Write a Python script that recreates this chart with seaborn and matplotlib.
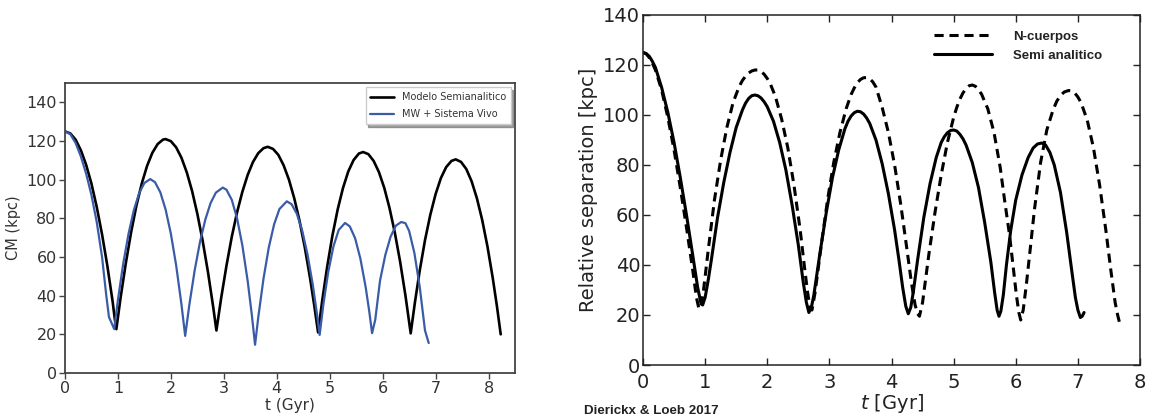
import matplotlib
matplotlib.use("Agg")
import matplotlib.pyplot as plt
import seaborn as sns

# ---- Left panel: centre-of-mass distance, semi-analytic vs live system ----
t_semi = [0.0, 0.1, 0.2, 0.3, 0.4, 0.5, 0.6, 0.7, 0.8, 0.9, 0.94, 0.97,
          1.05, 1.15, 1.25, 1.35, 1.45, 1.55, 1.65, 1.75, 1.85, 1.9,
          2.0, 2.1, 2.2, 2.3, 2.4, 2.5, 2.6, 2.7, 2.8, 2.86,
          2.95, 3.05, 3.15, 3.25, 3.35, 3.45, 3.55, 3.65, 3.75, 3.83,
          3.93, 4.03, 4.13, 4.23, 4.33, 4.43, 4.53, 4.63, 4.71, 4.78,
          4.86, 4.95, 5.05, 5.15, 5.25, 5.35, 5.45, 5.55, 5.63,
          5.73, 5.83, 5.93, 6.03, 6.13, 6.23, 6.33, 6.43, 6.53,
          6.61, 6.7, 6.8, 6.9, 7.0, 7.1, 7.2, 7.3, 7.38,
          7.48, 7.58, 7.68, 7.78, 7.88, 7.98, 8.08, 8.16, 8.23]
cm_semi = [125.0, 123.9, 120.7, 115.2, 107.6, 97.9, 85.8, 71.7, 55.4, 36.9, 28.0, 22.7,
           39.0, 57.0, 73.0, 86.7, 98.0, 107.1, 113.9, 118.4, 120.7, 121.0,
           119.9, 116.7, 111.3, 103.8, 94.2, 82.3, 68.4, 52.3, 34.0, 22.0,
           38.8, 55.5, 70.4, 83.1, 93.7, 102.4, 109.1, 113.7, 116.3, 117.0,
           115.9, 112.8, 107.4, 100.0, 90.4, 78.7, 64.9, 48.9, 34.6, 21.0,
           37.7, 54.6, 70.9, 84.5, 95.6, 104.2, 110.1, 113.5, 114.3,
           113.2, 109.7, 103.9, 95.8, 85.3, 72.6, 57.6, 40.2, 20.5,
           36.6, 52.9, 68.7, 81.8, 92.5, 100.8, 106.5, 109.7, 110.5,
           109.2, 105.5, 99.2, 90.4, 79.2, 65.4, 49.1, 34.3, 20.0]

t_live = [0.0, 0.1, 0.2, 0.3, 0.4, 0.5, 0.6, 0.7, 0.78, 0.83, 0.93,
          1.0, 1.1, 1.2, 1.3, 1.4, 1.5, 1.61,
          1.7, 1.8, 1.9, 2.0, 2.1, 2.2, 2.27,
          2.35, 2.45, 2.55, 2.65, 2.75, 2.85, 2.98,
          3.05, 3.15, 3.25, 3.35, 3.45, 3.53, 3.59,
          3.65, 3.75, 3.85, 3.95, 4.05, 4.19,
          4.28, 4.38, 4.48, 4.58, 4.68, 4.76, 4.81,
          4.88, 4.97, 5.07, 5.17, 5.29,
          5.38, 5.48, 5.58, 5.68, 5.75, 5.8,
          5.86, 5.95, 6.05, 6.15, 6.25, 6.35,
          6.43, 6.5, 6.6, 6.7, 6.8, 6.87]
cm_live = [125.0, 123.5, 119.0, 112.0, 103.0, 92.0, 78.0, 60.0, 40.0, 29.0, 22.7,
           37.8, 56.6, 72.0, 84.2, 93.0, 98.3, 100.3,
           98.7, 93.5, 84.6, 72.0, 55.6, 35.4, 19.2,
           35.5, 53.2, 67.8, 79.3, 87.9, 93.3, 95.9,
           94.8, 89.6, 80.0, 66.0, 47.7, 29.8, 14.6,
           28.7, 48.9, 65.0, 76.9, 84.8, 88.8,
           87.3, 82.3, 73.7, 61.4, 45.7, 30.4, 19.7,
           35.4, 51.9, 65.4, 74.0, 77.6,
           75.8, 69.7, 59.1, 44.3, 31.3, 20.6,
           27.5, 47.7, 61.0, 70.5, 76.2, 78.1,
           77.5, 73.5, 62.0, 44.6, 22.0, 15.5]

# ---- Right panel: relative separation, N-body vs semi-analytic ----
t_sa = [0.0, 0.05, 0.1, 0.15, 0.2, 0.3, 0.4, 0.5, 0.6, 0.7, 0.8, 0.88, 0.93, 0.96,
        1.0, 1.05, 1.1, 1.2, 1.3, 1.4, 1.5, 1.6, 1.65, 1.7, 1.75, 1.8,
        1.85, 1.9, 1.95, 2.0, 2.1, 2.2, 2.3, 2.4, 2.5, 2.58, 2.63, 2.67,
        2.71, 2.75, 2.85, 2.95, 3.05, 3.15, 3.25, 3.3, 3.35, 3.4, 3.45,
        3.5, 3.55, 3.6, 3.65, 3.75, 3.85, 3.95, 4.05, 4.12, 4.18, 4.23, 4.27,
        4.31, 4.35, 4.42, 4.52, 4.62, 4.72, 4.8, 4.85, 4.9, 4.95, 5.0,
        5.05, 5.1, 5.15, 5.2, 5.3, 5.4, 5.5, 5.6, 5.66, 5.7, 5.73,
        5.76, 5.8, 5.85, 5.92, 6.0, 6.1, 6.2, 6.28, 6.35, 6.42,
        6.48, 6.55, 6.62, 6.72, 6.82, 6.9, 6.96, 7.0, 7.04, 7.07, 7.1]
r_sa = [125.0, 124.6, 123.5, 121.5, 119.0, 111.0, 101.0, 89.0, 75.0, 60.0, 44.0, 31.0, 25.0, 24.0,
        27.0, 34.0, 42.0, 59.0, 73.0, 85.0, 95.0, 102.0, 104.7, 106.6, 107.7, 108.0,
        107.7, 106.8, 105.3, 103.3, 97.5, 89.0, 78.0, 64.0, 48.0, 33.0, 25.0, 21.0,
        23.0, 28.0, 45.0, 61.0, 75.0, 86.0, 94.5, 97.5, 99.6, 100.9, 101.5,
        101.3, 100.4, 98.8, 96.6, 90.0, 80.5, 68.5, 54.0, 42.0, 31.0, 23.5, 20.5,
        23.0, 29.0, 42.0, 59.0, 72.5, 83.0, 89.0, 91.3, 92.9, 93.8, 94.0,
        93.6, 92.3, 90.5, 88.0, 81.0, 71.0, 57.0, 41.0, 29.0, 22.0, 19.5,
        21.5, 28.0, 40.0, 54.0, 66.0, 76.0, 83.0, 86.8, 88.4, 88.8,
        88.0, 85.0, 80.0, 69.0, 53.0, 38.0, 27.0, 22.0, 19.0, 19.5, 21.0]

t_nb = [0.0, 0.05, 0.1, 0.15, 0.2, 0.3, 0.4, 0.5, 0.6, 0.7, 0.8, 0.86, 0.9, 0.93,
        0.97, 1.05, 1.15, 1.25, 1.35, 1.45, 1.55, 1.6, 1.65, 1.7, 1.75, 1.8,
        1.85, 1.9, 1.95, 2.0, 2.05, 2.13, 2.23, 2.33, 2.43, 2.53, 2.6, 2.65, 2.69,
        2.72, 2.77, 2.87, 2.97, 3.07, 3.17, 3.27, 3.35, 3.4, 3.45, 3.5, 3.55,
        3.6, 3.65, 3.7, 3.75, 3.85, 3.95, 4.05, 4.15, 4.25, 4.32, 4.38, 4.42,
        4.45, 4.5, 4.6, 4.7, 4.8, 4.9, 5.0, 5.05, 5.1, 5.15, 5.2, 5.25, 5.3,
        5.35, 5.4, 5.45, 5.55, 5.65, 5.75, 5.82, 5.9, 5.96, 6.01, 6.05, 6.08,
        6.12, 6.17, 6.24, 6.3, 6.4, 6.5, 6.6, 6.66, 6.72, 6.78, 6.85,
        6.9, 6.95, 7.0, 7.05, 7.15, 7.25, 7.35, 7.45, 7.53, 7.6, 7.64, 7.67]
r_nb = [125.0, 124.5, 123.0, 120.8, 118.0, 110.0, 99.0, 86.0, 71.0, 55.0, 38.0, 27.0, 22.5, 23.0,
        29.0, 46.0, 66.0, 82.0, 95.0, 105.0, 111.5, 113.8, 115.5, 116.8, 117.6, 118.0,
        118.0, 117.4, 116.3, 114.6, 112.4, 107.5, 98.5, 87.0, 72.0, 54.0, 39.0, 29.0, 22.5,
        22.0, 29.0, 48.0, 66.0, 81.0, 93.0, 102.5, 108.2, 110.8, 112.9, 114.2, 114.9,
        115.0, 114.5, 113.2, 111.2, 103.0, 93.0, 80.0, 64.0, 46.0, 33.0, 24.0, 20.5,
        19.5, 25.0, 44.0, 61.0, 76.0, 89.0, 99.0, 103.0, 106.3, 108.8, 110.6, 111.7, 112.0,
        111.5, 110.2, 108.3, 102.5, 93.0, 79.0, 66.0, 52.0, 39.0, 28.0, 21.0, 18.0,
        22.0, 32.0, 48.0, 62.0, 81.0, 94.0, 102.0, 105.5, 107.8, 109.2, 109.8,
        109.6, 108.8, 107.2, 105.0, 98.0, 87.0, 72.0, 54.0, 38.0, 25.0, 20.0, 17.0]

LEFT_LABELS = ["Modelo Semianalitico", "MW + Sistema Vivo"]
RIGHT_LABELS = ["N-cuerpos", "Semi analitico"]

sns.set_style("white")
plt.rcParams["font.family"] = ["DejaVu Sans"]

fig = plt.figure(figsize=(11.56, 4.19), dpi=100)

# ---------------- left axes ----------------
axl = fig.add_axes([65 / 1156, 1 - 373 / 419, 450 / 1156, 290 / 419])
grey = "#333333"
sns.lineplot(x=t_semi, y=cm_semi, ax=axl, color="black", lw=1.9,
             label=LEFT_LABELS[0], sort=False)
sns.lineplot(x=t_live, y=cm_live, ax=axl, color="#3a5ca8", lw=1.6,
             label=LEFT_LABELS[1], sort=False)
axl.set_xlim(0, 8.5)
axl.set_ylim(0, 150)
axl.set_xticks(range(0, 9))
axl.set_yticks(range(0, 141, 20))
for s in axl.spines.values():
    s.set_color("#444444")
    s.set_linewidth(1.3)
axl.tick_params(direction="out", length=4, width=1, colors="#444444",
                labelsize=11.5, labelcolor=grey, left=True, bottom=True, pad=2)
axl.set_xlabel("t (Gyr)", fontsize=11, color=grey, labelpad=1)
axl.set_ylabel("CM (kpc)", fontsize=10.5, color=grey, labelpad=4)
leg = axl.legend(loc="upper right", fontsize=7.0, frameon=True, shadow=True,
                 fancybox=False, borderpad=0.5, handlelength=2.4,
                 labelspacing=0.7, borderaxespad=0.45)
leg.get_frame().set_edgecolor("#cccccc")
for txt in leg.get_texts():
    txt.set_color(grey)

# ---------------- right axes ----------------
axr = fig.add_axes([643 / 1156, 1 - 365 / 419, 497 / 1156, 350 / 419])
sns.lineplot(x=t_nb, y=r_nb, ax=axr, color="black", lw=2.2,
             linestyle=(0, (3.0, 1.9)), label=RIGHT_LABELS[0], sort=False)
sns.lineplot(x=t_sa, y=r_sa, ax=axr, color="black", lw=2.2,
             label=RIGHT_LABELS[1], sort=False)
axr.set_xlim(0, 8)
axr.set_ylim(0, 140)
axr.set_xticks(range(0, 9))
axr.set_yticks(range(0, 141, 20))
for s in axr.spines.values():
    s.set_color("#222222")
    s.set_linewidth(1.1)
axr.tick_params(direction="in", length=5, width=1, colors="#222222",
                labelsize=14, top=True, right=True, left=True, bottom=True)
axr.tick_params(axis="x", pad=6)
axr.tick_params(axis="y", pad=2)
axr.set_xlabel("$t$ [Gyr]", fontsize=14, color="#222222", labelpad=0)
axr.set_ylabel("Relative separation [kpc]", fontsize=14, color="#222222",
               labelpad=4)
legr = axr.legend(loc="upper right", frameon=False, handlelength=4.4,
                  prop=dict(family="Liberation Sans", weight="bold", size=9.5),
                  labelspacing=0.55, handletextpad=1.6,
                  bbox_to_anchor=(0.948, 0.99))
for txt in legr.get_texts():
    txt.set_color("#222222")

fig.text(584 / 1156, 1 - 411 / 419, "Dierickx & Loeb 2017",
         family="Liberation Sans", weight="bold", fontsize=9.6,
         color="#222222", va="center", ha="left")

fig.savefig("out.png", dpi=100, facecolor="white")
